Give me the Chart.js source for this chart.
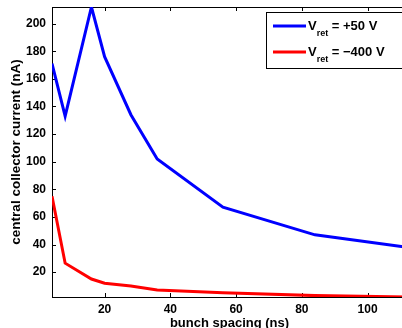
<!DOCTYPE html>
<html>
<head>
<meta charset="utf-8">
<script src="https://cdn.jsdelivr.net/npm/chart.js@4"></script>
<style>
  html, body { margin:0; padding:0; background:#fff; overflow:hidden; }
  #wrap { width:402px; height:328px; overflow:hidden; }
</style>
</head>
<body>
<div id="wrap"><canvas id="c" width="410" height="331"></canvas></div>
<script>
// bunch spacing (ns)
const spacing = [4, 8, 16, 20, 28, 36, 56, 84, 112];
// central collector current (nA)
const vret50 = [171, 133, 212, 176, 134, 102, 67, 47, 38];
const vret400 = [75, 26.5, 15, 12, 10, 7, 5, 3, 2];
const seriesNames = ['V_ret = +50 V', 'V_ret = \u2212400 V'];
const seriesColors = ['#0000ff', '#ff0000'];
const xTicks = [20, 40, 60, 80, 100];
const yTicks = [20, 40, 60, 80, 100, 120, 140, 160, 180, 200];

const FONT = 'Liberation Sans';

// box + inward tick marks, like the matlab axes
const frame = {
  id: 'frame',
  beforeDatasetsDraw(chart) {
    const {ctx, chartArea: a, scales: {x, y}} = chart;
    ctx.save();
    ctx.strokeStyle = '#000';
    ctx.lineWidth = 1;
    ctx.strokeRect(a.left + 0.5, a.top + 0.5, a.right - a.left, a.bottom - a.top);
    ctx.beginPath();
    xTicks.forEach(v => {
      const px = Math.round(x.getPixelForValue(v)) + 0.5;
      ctx.moveTo(px, a.bottom); ctx.lineTo(px, a.bottom - 4);
      ctx.moveTo(px, a.top); ctx.lineTo(px, a.top + 4);
    });
    yTicks.forEach(v => {
      const py = Math.round(y.getPixelForValue(v)) + 0.5;
      ctx.moveTo(a.left, py); ctx.lineTo(a.left + 4, py);
      ctx.moveTo(a.right, py); ctx.lineTo(a.right - 4, py);
    });
    ctx.stroke();
    ctx.restore();
  },
  afterDraw(chart) {
    // legend with subscripts
    const ctx = chart.ctx;
    ctx.save();
    ctx.fillStyle = '#fff';
    ctx.fillRect(267, 12, 150, 56);
    ctx.strokeStyle = '#000';
    ctx.lineWidth = 1;
    ctx.strokeRect(266.5, 12.5, 150, 56);
    chart.data.datasets.forEach((ds, i) => {
      const ly = 26 + i * 26;
      ctx.strokeStyle = ds.borderColor;
      ctx.lineWidth = 3;
      ctx.beginPath();
      ctx.moveTo(273, ly); ctx.lineTo(306, ly);
      ctx.stroke();
      const [main, rest] = ds.label.split('_');
      const sub = rest.split(' ')[0];
      const tail = rest.slice(sub.length);
      ctx.fillStyle = '#000';
      ctx.textBaseline = 'alphabetic';
      ctx.font = 'bold 13px ' + FONT;
      let tx = 308;
      ctx.fillText(main, tx, ly + 4);
      tx += ctx.measureText(main).width;
      ctx.font = 'bold 9px ' + FONT;
      ctx.fillText(sub, tx, ly + 10);
      tx += ctx.measureText(sub).width;
      ctx.font = 'bold 13px ' + FONT;
      ctx.fillText(tail, tx, ly + 4);
    });
    ctx.restore();
  }
};

new Chart(document.getElementById('c'), {
  type: 'line',
  data: {
    labels: spacing,
    datasets: [
      { label: seriesNames[0], data: spacing.map((s, i) => ({x: s, y: vret50[i]})),
        borderColor: seriesColors[0], borderWidth: 3, pointRadius: 0, tension: 0 },
      { label: seriesNames[1], data: spacing.map((s, i) => ({x: s, y: vret400[i]})),
        borderColor: seriesColors[1], borderWidth: 3, pointRadius: 0, tension: 0 }
    ]
  },
  options: {
    responsive: false,
    animation: false,
    devicePixelRatio: 1,
    layout: { padding: { top: 7, right: 3, left: 0, bottom: 0 } },
    plugins: { legend: { display: false }, tooltip: { enabled: false } },
    scales: {
      x: {
        type: 'linear', min: 4, max: 112,
        afterBuildTicks: s => { s.ticks = xTicks.map(v => ({value: v})); },
        afterFit: s => { s.height = 34; s.paddingLeft = 0; s.paddingRight = 0; },
        grid: { display: false, drawTicks: false, tickLength: 0 },
        border: { display: false },
        ticks: { color: '#000', padding: 5, maxRotation: 0, font: { family: FONT, weight: 'bold', size: 12 } },
        title: { display: true, text: 'bunch spacing (ns)', color: '#000', padding: 0,
                 font: { family: FONT, weight: 'bold', size: 13 } }
      },
      y: {
        min: 2, max: 212,
        afterBuildTicks: s => { s.ticks = yTicks.map(v => ({value: v})); },
        afterFit: s => { s.width = 52; s.paddingTop = 0; s.paddingBottom = 0; },
        grid: { display: false, drawTicks: false, tickLength: 0 },
        border: { display: false },
        ticks: { color: '#000', padding: 6, font: { family: FONT, weight: 'bold', size: 12 } },
        title: { display: true, text: 'central collector current (nA)', color: '#000', padding: { top: 8 },
                 font: { family: FONT, weight: 'bold', size: 13.5 } }
      }
    }
  },
  plugins: [frame]
});
</script>
</body>
</html>
